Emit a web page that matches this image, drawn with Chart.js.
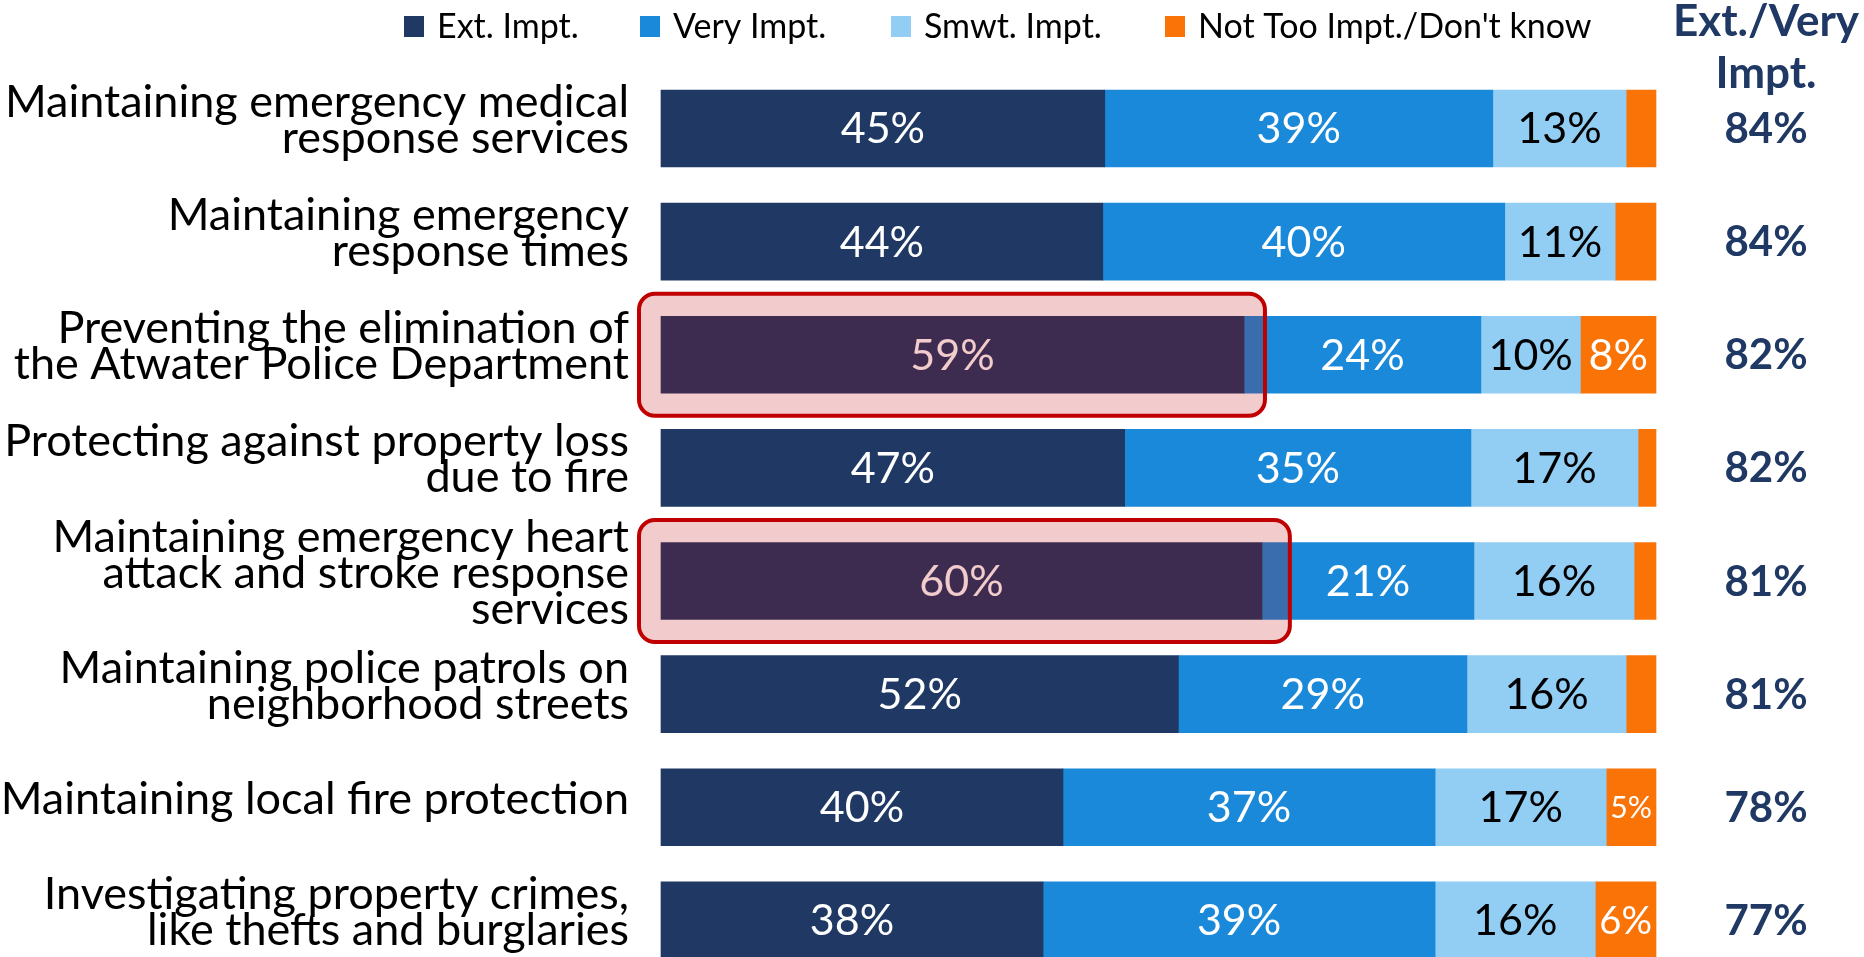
<!DOCTYPE html>
<html>
<head>
<meta charset="utf-8">
<script src="https://cdn.jsdelivr.net/npm/chart.js@4.4.1/dist/chart.umd.min.js"></script>
<style>
  html, body { margin: 0; padding: 0; background: #fff; }
</style>
</head>
<body>
<canvas id="chart" width="1864" height="957"></canvas>
<script>
const categories = [
    ['Maintaining emergency medical', 'response services'],
    ['Maintaining emergency', 'response times'],
    ['Preventing the elimination of', 'the Atwater Police Department'],
    ['Protecting against property loss', 'due to fire'],
    ['Maintaining emergency heart', 'attack and stroke response', 'services'],
    ['Maintaining police patrols on', 'neighborhood streets'],
    'Maintaining local fire protection',
    ['Investigating property crimes,', 'like thefts and burglaries']
];
const seriesNames = ['Ext. Impt.', 'Very Impt.', 'Smwt. Impt.', "Not Too Impt./Don't know"];
const extImpt = [44.6, 44.4, 58.6, 46.6, 60.4, 52.0, 40.4, 38.4];
const veryImpt = [39.0, 40.4, 23.8, 34.8, 21.3, 29.0, 37.4, 39.4];
const smwtImpt = [13.4, 11.1, 10.0, 16.8, 16.1, 16.0, 17.2, 16.1];
const notTooImpt = [3.0, 4.1, 7.6, 1.8, 2.2, 3.0, 5.0, 6.1];
const extVeryTotals = [84, 84, 82, 82, 81, 81, 78, 77];
const totalsHeader = ['Ext./Very', 'Impt.'];
// rows with the red highlight box, and where each box ends (in % units)
const highlightRows = [2, 4];
const highlightEnds = [60.7, 63.2];

const colors = ['#1f3864', '#1a89d9', '#92cdf3', '#f97306'];
const labelColors = ['#fff', '#fff', '#000', '#fff'];
const navy = '#1f3864';
const FONT = 'Lato, "Open Sans", sans-serif';

const legendX = [404, 640, 891, 1165];

const overlayPlugin = {
    id: 'overlay',
    afterDatasetsDraw(chart) {
        const ctx = chart.ctx;
        const xs = chart.scales.x, ys = chart.scales.y;
        ctx.save();
        ctx.textAlign = 'center';
        ctx.textBaseline = 'middle';
        // values inside the bars
        chart.data.datasets.forEach((ds, di) => {
            chart.getDatasetMeta(di).data.forEach((bar, i) => {
                const v = ds.data[i];
                if (v < 5) return;
                const txt = Math.round(v) + '%';
                const w = Math.abs(bar.x - bar.base);
                let size = 43;
                ctx.font = `${size}px ${FONT}`;
                const tw = ctx.measureText(txt).width;
                if (tw > w - 8) size = size * (w - 8) / tw;
                ctx.font = `${size}px ${FONT}`;
                ctx.fillStyle = labelColors[di];
                ctx.fillText(txt, (bar.x + bar.base) / 2, bar.y + 1);
            });
        });
        // Ext./Very column
        const colX = chart.chartArea.right + 110;
        ctx.fillStyle = navy;
        ctx.font = `bold 42px ${FONT}`;
        extVeryTotals.forEach((t, i) => {
            ctx.fillText(t + '%', colX, ys.getPixelForValue(i) + 1);
        });
        ctx.textBaseline = 'alphabetic';
        ctx.font = `bold 44px ${FONT}`;
        ctx.fillText(totalsHeader[0], colX, 36);
        ctx.fillText(totalsHeader[1], colX, 88);
        // highlight boxes
        highlightRows.forEach((r, k) => {
            const cy = ys.getPixelForValue(r);
            const left = xs.getPixelForValue(0) - 22;
            const right = xs.getPixelForValue(highlightEnds[k]);
            ctx.beginPath();
            ctx.roundRect(left, cy - 61, right - left, 122, 16);
            ctx.fillStyle = 'rgba(192,0,0,0.2)';
            ctx.fill();
            ctx.lineWidth = 4;
            ctx.strokeStyle = '#c00000';
            ctx.stroke();
        });
        // legend
        ctx.textAlign = 'left';
        ctx.textBaseline = 'middle';
        ctx.font = `34px ${FONT}`;
        seriesNames.forEach((name, i) => {
            ctx.fillStyle = colors[i];
            ctx.fillRect(legendX[i], 16, 20, 21);
            ctx.fillStyle = '#000';
            ctx.fillText(name, legendX[i] + 33, 27);
        });
        ctx.restore();
    }
};

const series = [extImpt, veryImpt, smwtImpt, notTooImpt];

new Chart(document.getElementById('chart'), {
    type: 'bar',
    data: {
        labels: categories,
        datasets: series.map((d, i) => ({
            label: seriesNames[i],
            data: d,
            backgroundColor: colors[i],
            borderWidth: 0,
            barThickness: 77,
            clip: false
        }))
    },
    options: {
        indexAxis: 'y',
        responsive: false,
        animation: false,
        layout: { padding: { left: 0, right: 208, top: 128.5, bottom: 36.6 } },
        plugins: { legend: { display: false }, tooltip: { enabled: false } },
        scales: {
            x: { stacked: true, min: 0, max: 100, display: false },
            y: {
                stacked: true,
                offset: false,
                grid: { display: false, drawTicks: false },
                border: { display: false },
                ticks: {
                    autoSkip: false,
                    color: '#000',
                    padding: 32,
                    labelOffset: -8,
                    font: { family: FONT, size: 45, lineHeight: 0.8 }
                },
                afterFit(scale) {
                    scale.width = 661;
                    scale.paddingTop = 0;
                    scale.paddingBottom = 0;
                }
            }
        }
    },
    plugins: [overlayPlugin]
});
</script>
</body>
</html>
